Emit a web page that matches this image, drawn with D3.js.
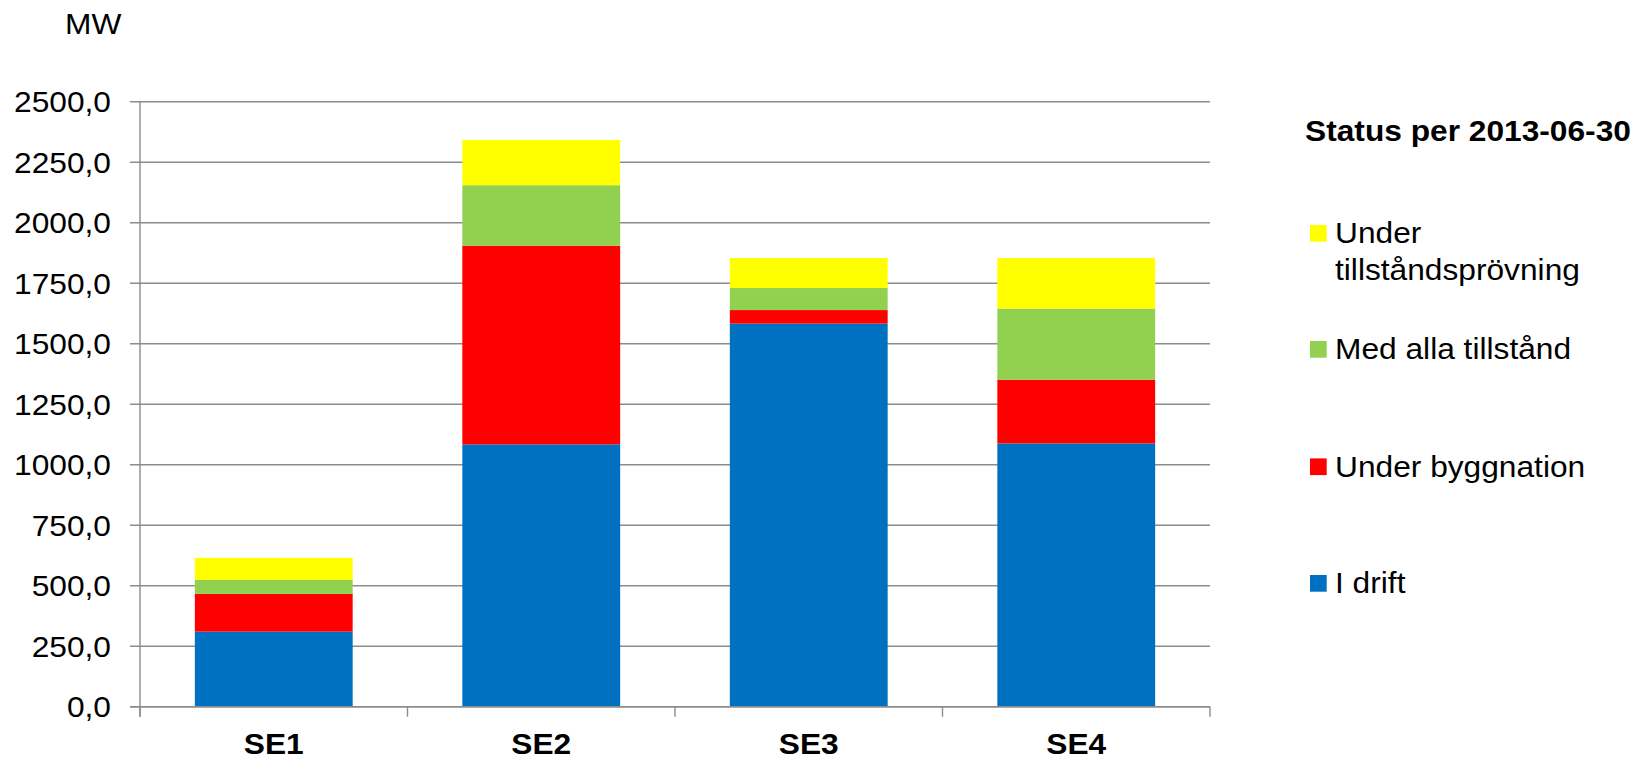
<!DOCTYPE html>
<html>
<head>
<meta charset="utf-8">
<script src="https://cdn.jsdelivr.net/npm/d3@7"></script>
<style>
  html, body { margin: 0; padding: 0; background: #fff; }
  svg { display: block; }
  text { font-family: "Liberation Sans", Arial, sans-serif; fill: #000; }
</style>
</head>
<body>
<svg id="chart" width="1636" height="760"></svg>
<script>
// ---- data ----
const categories = ["SE1", "SE2", "SE3", "SE4"];
const iDrift = [310, 1084, 1583, 1088];
const underByggnation = [156, 821, 56, 263];
const medAllaTillstand = [58, 250, 91, 294];
const underTillstandsprovning = [91, 187, 124, 209];
const seriesNames = ["I drift", "Under byggnation", "Med alla tillstånd", "Under tillståndsprövning"];
const seriesColors = ["#0070C0", "#FF0000", "#92D050", "#FFFF00"];
const yTicks = [0, 250, 500, 750, 1000, 1250, 1500, 1750, 2000, 2250, 2500];
const unitLabel = "MW";
const legendTitle = "Status per 2013-06-30";

// ---- layout ----
const svg = d3.select("#chart");
const plotLeft = 140, plotRight = 1210, plotTop = 101.7, plotBottom = 706.7;
const SX = 1.075;       // horizontal text stretch of the reference
const FS = 29.5;

const x = d3.scaleBand().domain(categories).range([plotLeft, plotRight])
  .paddingInner(0.41).paddingOuter(0.205);
const y = d3.scaleLinear().domain([0, 2500]).range([plotBottom, plotTop]);
const fmt = d3.formatLocale({decimal: ",", thousands: "", grouping: [3], currency: ["", ""]}).format(".1f");

function label(g, px, py, str, anchor, bold, size) {
  return g.append("text")
    .attr("transform", `translate(${px},${py}) scale(${SX},1)`)
    .attr("text-anchor", anchor)
    .attr("font-size", size || FS)
    .attr("font-weight", bold ? "bold" : "normal")
    .text(str);
}

// gridlines + y labels
const grid = svg.append("g");
grid.selectAll("line.grid").data(yTicks).join("line")
  .attr("x1", plotLeft - 10).attr("x2", plotRight)
  .attr("y1", d => y(d)).attr("y2", d => y(d))
  .attr("stroke", "#8c8c8c").attr("stroke-width", 1.4);
yTicks.forEach(t => label(grid, 111, y(t) + 10.5, fmt(t), "end", false));

// stacked bars
const table = categories.map((c, i) => ({
  cat: c, s0: iDrift[i], s1: underByggnation[i], s2: medAllaTillstand[i], s3: underTillstandsprovning[i]
}));
const stack = d3.stack().keys(["s0", "s1", "s2", "s3"])(table);
svg.append("g").selectAll("g").data(stack).join("g")
  .attr("fill", (d, i) => seriesColors[i])
  .selectAll("rect").data(d => d).join("rect")
  .attr("x", d => x(d.data.cat))
  .attr("width", x.bandwidth())
  .attr("y", d => y(d[1]))
  .attr("height", d => y(d[0]) - y(d[1]));

// axes lines
const ax = svg.append("g");
ax.append("line").attr("x1", plotLeft).attr("x2", plotLeft).attr("y1", plotTop).attr("y2", plotBottom + 10)
  .attr("stroke", "#8c8c8c").attr("stroke-width", 1.4);
ax.append("line").attr("x1", plotLeft - 10).attr("x2", plotRight).attr("y1", plotBottom).attr("y2", plotBottom)
  .attr("stroke", "#8c8c8c").attr("stroke-width", 1.4);
const step = x.step();
d3.range(categories.length + 1).forEach(i => {
  const px = plotLeft + i * step;
  ax.append("line").attr("x1", px).attr("x2", px).attr("y1", plotBottom).attr("y2", plotBottom + 10)
    .attr("stroke", "#8c8c8c").attr("stroke-width", 1.4);
});
categories.forEach(c => label(ax, x(c) + x.bandwidth() / 2, 754, c, "middle", true, 29.5));

// unit label
label(svg, 65, 34.3, unitLabel, "start", false);

// legend
const lg = svg.append("g");
label(lg, 1305, 141, legendTitle, "start", true, 29.5);
const legendRows = [
  {idx: 3, lines: ["Under", "tillståndsprövning"], base: 243.3},
  {idx: 2, lines: ["Med alla tillstånd"], base: 359.3},
  {idx: 1, lines: ["Under byggnation"], base: 476.7},
  {idx: 0, lines: ["I drift"], base: 593.3}
];
legendRows.forEach(r => {
  lg.append("rect").attr("x", 1310).attr("y", r.base - 18.3).attr("width", 16.7).attr("height", 16.7)
    .attr("fill", seriesColors[r.idx]);
  r.lines.forEach((ln, j) => label(lg, 1335, r.base + j * 36.7, ln, "start", false));
});
</script>
</body>
</html>
